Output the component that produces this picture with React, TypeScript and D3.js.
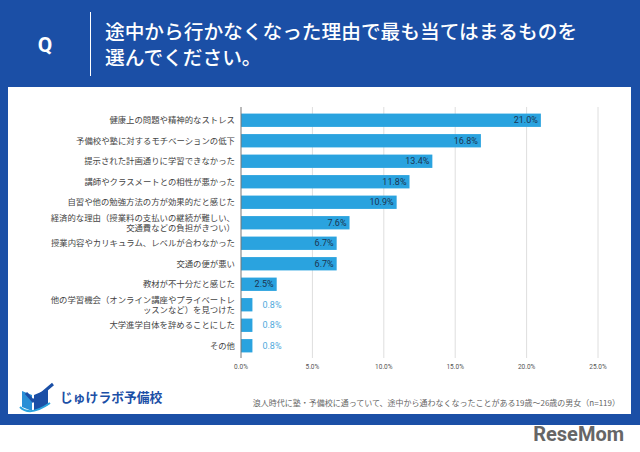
import React, { useEffect, useRef } from "react";
import * as d3 from "d3";

const categories: string[][] = [
  ["健康上の問題や精神的なストレス"],
  ["予備校や塾に対するモチベーションの低下"],
  ["提示された計画通りに学習できなかった"],
  ["講師やクラスメートとの相性が悪かった"],
  ["自習や他の勉強方法の方が効果的だと感じた"],
  ["経済的な理由（授業料の支払いの継続が難しい、", "交通費などの負担がきつい）"],
  ["授業内容やカリキュラム、レベルが合わなかった"],
  ["交通の便が悪い"],
  ["教材が不十分だと感じた"],
  ["他の学習機会（オンライン講座やプライベートレ", "ッスンなど）を見つけた"],
  ["大学進学自体を辞めることにした"],
  ["その他"],
];
const values = [21.0, 16.8, 13.4, 11.8, 10.9, 7.6, 6.7, 6.7, 2.5, 0.8, 0.8, 0.8];
const ticks = [0, 5, 10, 15, 20, 25];

const titleLines = ["途中から行かなくなった理由で最も当てはまるものを", "選んでください。"];
const note = "浪人時代に塾・予備校に通っていて、途中から通わなくなったことがある19歳～26歳の男女（n=119）";

const BLUE = "#1b4fa6";
const BAR = "#2aa3df";
const JP = "'Noto Sans CJK JP', 'Noto Sans', sans-serif";

export default function App() {
  const ref = useRef<SVGSVGElement>(null);

  useEffect(() => {
    const svg = d3.select(ref.current);
    svg.selectAll("*").remove();

    // frame
    svg.append("rect").attr("width", 640).attr("height", 452).attr("fill", "#fff");
    svg.append("rect").attr("width", 640).attr("height", 425).attr("fill", BLUE);
    svg.append("rect").attr("x", 8).attr("y", 87).attr("width", 623).attr("height", 327).attr("fill", "#fff");

    // header
    svg
      .append("text")
      .attr("x", 45)
      .attr("y", 52)
      .attr("text-anchor", "middle")
      .attr("fill", "#fff")
      .style("font-family", "Roboto, sans-serif")
      .style("font-weight", "bold")
      .style("font-size", "21px")
      .text("Q");
    svg
      .append("line")
      .attr("x1", 90.5)
      .attr("x2", 90.5)
      .attr("y1", 12)
      .attr("y2", 76)
      .attr("stroke", "#fff")
      .attr("stroke-width", 1);
    svg
      .append("g")
      .selectAll("text")
      .data(titleLines)
      .enter()
      .append("text")
      .attr("x", 105)
      .attr("y", (d, i) => 39 + i * 26)
      .attr("fill", "#fff")
      .style("font-family", JP)
      .style("font-weight", 500)
      .style("font-size", "19.7px")
      .text((d) => d);

    // chart
    const x = d3.scaleLinear().domain([0, 25]).range([241, 598]);
    const y = d3
      .scaleBand<number>()
      .domain(d3.range(values.length))
      .range([110, 356])
      .paddingInner(0.35)
      .paddingOuter(0.175);

    svg
      .append("g")
      .selectAll("line")
      .data(ticks.slice(1))
      .enter()
      .append("line")
      .attr("x1", (d) => x(d))
      .attr("x2", (d) => x(d))
      .attr("y1", 107)
      .attr("y2", 358)
      .attr("stroke", "#dedede");

    svg
      .append("g")
      .selectAll("text")
      .data(ticks)
      .enter()
      .append("text")
      .attr("x", (d) => x(d))
      .attr("y", 369)
      .attr("text-anchor", "middle")
      .attr("fill", "#555")
      .style("font-family", "Roboto, sans-serif")
      .style("font-size", "6.5px")
      .text((d) => d.toFixed(1) + "%");

    svg
      .append("g")
      .selectAll("rect")
      .data(values)
      .enter()
      .append("rect")
      .attr("x", x(0))
      .attr("y", (d, i) => y(i)!)
      .attr("width", (d) => x(d) - x(0))
      .attr("height", y.bandwidth())
      .attr("fill", BAR);

    svg
      .append("line")
      .attr("x1", x(0))
      .attr("x2", x(0))
      .attr("y1", 107)
      .attr("y2", 358)
      .attr("stroke", "#777");

    // value labels
    svg
      .append("g")
      .selectAll("text")
      .data(values)
      .enter()
      .append("text")
      .attr("x", (d) => (d > 2 ? x(d) - 3 : x(d) + 10))
      .attr("y", (d, i) => y(i)! + y.bandwidth() / 2 + 3.2)
      .attr("text-anchor", (d) => (d > 2 ? "end" : "start"))
      .attr("fill", (d) => (d > 2 ? "#1c3552" : "#4fa9dc"))
      .style("font-family", "Roboto, sans-serif")
      .style("font-size", "9px")
      .text((d) => d.toFixed(1) + "%");

    // category labels, one text per line
    const lines = categories.flatMap((d, i) => d.map((t, j) => ({ t, j, n: d.length, i })));
    svg
      .append("g")
      .selectAll("text")
      .data(lines)
      .enter()
      .append("text")
      .attr("text-anchor", "end")
      .attr("fill", "#444")
      .style("font-family", JP)
      .style("font-size", "8.4px")
      .attr("x", 235)
      .attr("y", (d) => y(d.i)! + y.bandwidth() / 2 + 3 + (d.j - (d.n - 1) / 2) * 10)
      .text((d) => d.t);

    // footer logo
    const logo = svg.append("g").attr("transform", "translate(20,385)");
    logo
      .append("path")
      .attr("d", "M2,6 L12,10 L12,26 L2,22 Z")
      .attr("fill", "#2a8fd6");
    logo
      .append("path")
      .attr("d", "M14,10 L28,4 L28,20 L14,26 Z")
      .attr("fill", "#1b4fa6");
    logo
      .append("path")
      .attr("d", "M6,8 L13,16 L33,-1")
      .attr("fill", "none")
      .attr("stroke", "#1b4fa6")
      .attr("stroke-width", 3);
    logo
      .append("path")
      .attr("d", "M0,22 Q10,32 30,18")
      .attr("fill", "none")
      .attr("stroke", "#2aa3df")
      .attr("stroke-width", 2);
    svg
      .append("text")
      .attr("x", 60)
      .attr("y", 402)
      .attr("fill", BLUE)
      .style("font-family", JP)
      .style("font-weight", "bold")
      .style("font-size", "12.8px")
      .text("じゅけラボ予備校");

    svg
      .append("text")
      .attr("x", 620)
      .attr("y", 406)
      .attr("text-anchor", "end")
      .attr("fill", "#666")
      .style("font-family", JP)
      .style("font-size", "8px")
      .text(note);

    svg
      .append("text")
      .attr("x", 624)
      .attr("y", 441)
      .attr("text-anchor", "end")
      .attr("fill", "#666")
      .style("font-family", "Roboto, sans-serif")
      .style("font-weight", "bold")
      .style("font-size", "20px")
      .text("ReseMom");
  }, []);

  return (
    <div style={{ position: "absolute", left: 0, top: 0 }}>
      <svg ref={ref} width={640} height={452} />
    </div>
  );
}
